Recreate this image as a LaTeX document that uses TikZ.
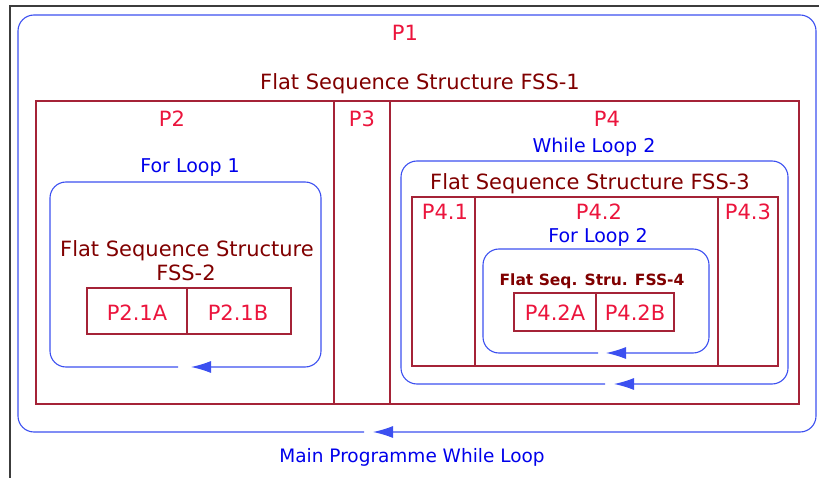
\documentclass[tikz,border=0pt]{standalone}
\usepackage{fontspec}
\setmainfont{DejaVu Sans}
\usetikzlibrary{arrows.meta}
\definecolor{partred}{RGB}{235,20,60}
\definecolor{fssred}{RGB}{128,0,0}
\definecolor{boxred}{RGB}{165,35,55}
\definecolor{loopblue}{RGB}{0,0,235}
\definecolor{loopline}{RGB}{60,80,240}
\definecolor{framegray}{RGB}{60,60,60}

\begin{document}
\begin{tikzpicture}[x=1pt, y=-1pt,
  every node/.style={font=\fontsize{21}{23}\selectfont, inner sep=0pt, anchor=base},
  part/.style={text=partred},
  fsstitle/.style={text=fssred},
  looptitle/.style={text=loopblue, font=\fontsize{19}{21}\selectfont},
  fssbox/.style={draw=boxred, line width=1.1pt},
  looppath/.style={draw=loopline, line width=1.1pt, rounded corners=16pt,
    -{Latex[length=20pt,width=12pt]}}]

\path[use as bounding box] (0,0) rectangle (819,478);

% window frame (top and left only)
\draw[framegray, line width=1.6pt] (10,478) -- (10,6) -- (819,6);

% Main programme while loop (P1)
\draw[looppath] (364,432) -| (18,15) -| (816,432) -- (373,432);
\node[part] (p1) at (405,41) {P1};
\node[looptitle, font=\fontsize{18.5}{21}\selectfont] (mainloop) at (412,462) {Main Programme While Loop};

% Flat sequence structure FSS-1
\node[fsstitle] (fss1) at (420,90) {Flat Sequence Structure FSS-1};
\draw[fssbox] (36,101) rectangle (799,404);
\foreach \x in {334,390} {
  \draw[fssbox] (\x,101) -- (\x,404);
}
\node[part] (p2) at (172,127) {P2};
\node[part] (p3) at (362,127) {P3};
\node[part] (p4) at (607,127) {P4};

% P2: for loop 1 with FSS-2
\node[looptitle] (forloop1) at (190,173) {For Loop 1};
\draw[looppath] (178,367) -| (50,182) -| (321,367) -- (191,367);
\node[fsstitle] (fss2a) at (187,257) {Flat Sequence Structure};
\node[fsstitle] (fss2b) at (186,280) {FSS-2};
\draw[fssbox] (87,288) rectangle (291,334);
\draw[fssbox] (187,288) -- (187,334);
\node[part] (p21a) at (137,320) {P2.1A};
\node[part] (p21b) at (238,320) {P2.1B};

% P4: while loop 2 with FSS-3
\node[looptitle] (whileloop2) at (594,153) {While Loop 2};
\draw[looppath] (605,384) -| (401,161) -| (788,384) -- (614,384);
\node[fsstitle] (fss3) at (590,190) {Flat Sequence Structure FSS-3};
\draw[fssbox] (412,197) rectangle (778,366);
\foreach \x in {475,718} {
  \draw[fssbox] (\x,197) -- (\x,366);
}
\node[part] (p41) at (445,220) {P4.1};
\node[part] (p42) at (599,220) {P4.2};
\node[part] (p43) at (748,220) {P4.3};

% P4.2: for loop 2 with FSS-4
\node[looptitle] (forloop2) at (598,243) {For Loop 2};
\draw[looppath] (598,353) -| (483,249) -| (709,353) -- (606,353);
\node[fsstitle, font=\bfseries\fontsize{15.5}{18}\selectfont] (fss4) at (592,286) {Flat Seq. Stru. FSS-4};
\draw[fssbox] (514,293) rectangle (674,331);
\draw[fssbox] (596,293) -- (596,331);
\node[part] (p42a) at (555,320) {P4.2A};
\node[part] (p42b) at (635,320) {P4.2B};
\end{tikzpicture}
\end{document}
